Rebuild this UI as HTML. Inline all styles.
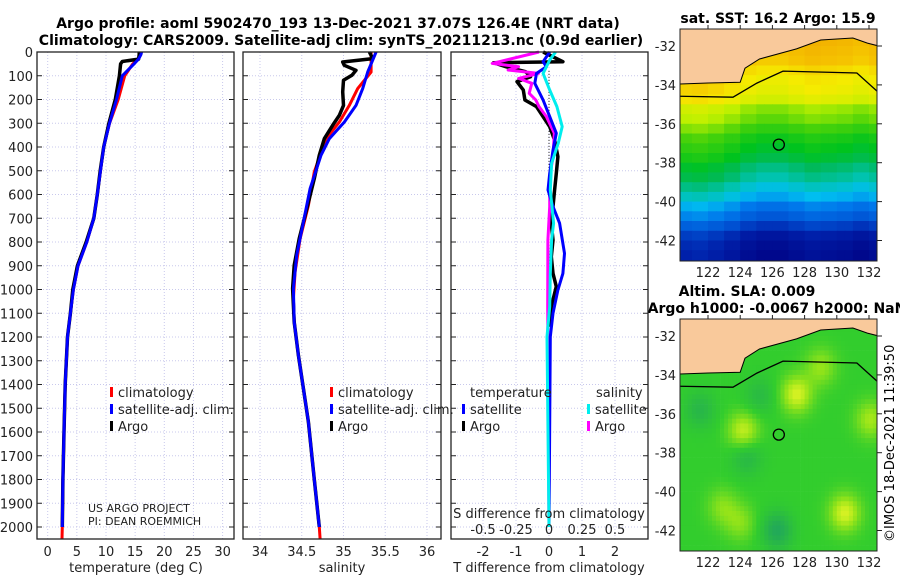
<!DOCTYPE html>
<html><head><meta charset="utf-8">
<style>
html,body{margin:0;padding:0;background:#fff;}
svg{display:block;font-family:"DejaVu Sans","Liberation Sans",sans-serif;}
</style></head>
<body>
<svg id="fig" width="900" height="580" viewBox="0 0 900 580" xmlns="http://www.w3.org/2000/svg">
<text x="338" y="28" font-size="14" font-weight="bold" text-anchor="middle">Argo profile: aoml 5902470_193 13-Dec-2021 37.07S 126.4E (NRT data)</text>
<text x="341" y="45" font-size="14" font-weight="bold" text-anchor="middle">Climatology: CARS2009. Satellite-adj clim: synTS_20211213.nc (0.9d earlier)</text>
<text x="778" y="23" font-size="14" font-weight="bold" text-anchor="middle">sat. SST: 16.2 Argo: 15.9</text>
<text x="747" y="296" font-size="14" font-weight="bold" text-anchor="middle">Altim. SLA: 0.009</text>
<text x="777" y="313" font-size="14" font-weight="bold" text-anchor="middle">Argo h1000: -0.0067 h2000: NaN</text>
<text transform="translate(894,542) rotate(-90)" font-size="13">©IMOS 18-Dec-2021 11:39:50</text>
<g id="g"></g>
</svg>
<script>
// ---------- data ----------
const tDepth=[0,10,30,40,50,100,200,300,400,500,600,700,800,900,1000,1100,1200,1400,1600,1800,2000];
const tClim=[16.0,15.9,15.5,15.0,14.6,13.2,12.1,10.6,9.6,9.05,8.5,7.9,6.7,5.2,4.4,3.9,3.4,3.0,2.8,2.6,2.5];
const tSat=[16.1,16.0,15.6,15.2,14.8,12.8,11.8,10.6,9.6,9.05,8.5,7.9,6.7,5.2,4.4,3.9,3.4,3.0,2.8,2.6,2.5];
const tArgo=[15.7,15.7,15.6,12.8,12.5,12.3,11.6,10.5,9.6,9.0,8.5,7.9,6.6,5.1,4.3,3.9,3.4,3.0,2.8,2.6,2.5];
const tClimExtDepth=[2000,2050];
const tClimExt=[2.5,2.45];

const sClimDepth=[0,84,154,225,295,365,505,646,786,926,1038,1137,1277,1417,1558,1800,2000,2050];
const sClim=[35.33,35.33,35.17,35.07,34.95,34.79,34.65,34.58,34.48,34.42,34.40,34.41,34.46,34.52,34.58,34.65,34.71,34.72];
const sSatDepth=[0,84,154,225,295,365,435,575,716,856,996,1137,1277,1417,1558,1800,2000];
const sSat=[35.39,35.29,35.23,35.15,35.01,34.83,34.73,34.60,34.52,34.44,34.40,34.41,34.46,34.52,34.58,34.65,34.71];
const sArgoDepth=[0,28,42,56,77,98,119,168,225,267,309,365,435,533,646,786,898,996,1137,1277,1417,1558,1800,2000];
const sArgo=[35.31,35.35,34.99,35.01,35.15,35.10,35.0,34.99,35.0,34.95,34.87,34.77,34.71,34.65,34.57,34.47,34.41,34.39,34.41,34.46,34.52,34.58,34.65,34.71];

const dTArgoDepth=[0,41,45,62,83,104,125,160,202,230,272,314,371,441,511,581,651,721,792,862,932,988,1072,1157];
const dTArgo=[-0.18,0.42,-1.68,-1.31,-0.71,-0.56,-0.97,-0.78,-0.73,-0.38,-0.18,0.02,0.17,0.27,0.22,0.17,0.12,0.07,0.12,0.07,0.12,0.22,0.07,0.04];
const dSArgoDepth=[0,48,62,76,90,111,132,174,202,230,272,342,441,511,581,651,792,1072,2000];
const dSArgo=[-0.076,-0.43,-0.23,-0.31,-0.08,-0.23,-0.13,-0.15,-0.10,-0.076,-0.02,0.04,0.03,0.01,0.005,0.005,-0.008,-0.01,0];
const dTSatDepth=[0,41,62,90,132,202,272,342,413,511,581,651,721,848,932,1002,1100,1199,2000];
const dTSat=[0.02,-0.18,-0.08,-0.38,-0.43,-0.18,0.02,0.22,0.12,0.02,-0.03,0.12,0.32,0.47,0.42,0.27,0.12,0.04,0.0];
const dSSatDepth=[0,34,90,160,230,314,385,469,581,721,792,932,1072,1199,2000];
const dSSat=[0.05,0.005,-0.045,0.005,0.06,0.10,0.07,0.02,0.01,0.035,0.02,0.01,0.005,-0.015,0];

const depthTicks=[0,100,200,300,400,500,600,700,800,900,1000,1100,1200,1300,1400,1500,1600,1700,1800,1900,2000];
const tempTicks=[0,5,10,15,20,25,30];
const salTicks=[34,34.5,35,35.5,36];
const salTickLabels=["34","34.5","35","35.5","36"];
const dTTicks=[-2,-1,0,1,2];
const dSTicks=[-0.5,-0.25,0,0.25,0.5];
const dSTickLabels=["-0.5","-0.25","0","0.25","0.5"];

// SST map: rows of 0.5 deg starting at -31 (top edge), columns 1 deg from 120
const sstRowLat=[-31,-31.5,-32,-32.5,-33,-33.5,-34,-34.5,-35,-35.5,-36,-36.5,-37,-37.5,-38,-38.5,-39,-39.5,-40,-40.5,-41,-41.5,-42,-42.5,-43];
const sstRow=[18.5,18.5,18.4,18.3,18.0,17.8,17.7,17.5,17.0,16.8,16.5,16.2,16.0,15.8,15.5,15.3,15.0,14.7,14.3,14.0,13.6,13.2,13.0,12.9,12.9];
const sstColLon=[120,121,122,123,124,125,126,127,128,129,130,131,132];
const sstColOff=[0.4,0.45,0.35,0.2,0.0,-0.1,-0.1,0.0,0.1,0.05,0.0,-0.1,0.0];
// SLA blobs: lon, lat, amplitude
const slaBlobLon=[127.5,124.2,130.5,132.1,122.9,124.0,126.3,121.5,124.4,125.2,129.0];
const slaBlobLat=[-35.0,-36.9,-41.1,-36.3,-40.8,-41.6,-42.0,-35.8,-38.2,-35.1,-33.6];
const slaBlobAmp=[1.0,0.9,1.0,0.7,0.5,0.5,-0.8,-0.5,-0.5,-0.4,0.6];
// coast and 200 m isobath
const coastLon=[120.2,122.0,124.0,124.3,125.2,127.5,129.0,131.0,131.9,132.6];
const coastLat=[-33.96,-33.9,-33.86,-33.14,-32.67,-32.15,-31.69,-31.59,-31.85,-32.0];
const isoLon=[120.2,123.55,125.04,126.66,131.25,132.6];
const isoLat=[-34.58,-34.63,-33.91,-33.29,-33.39,-34.4];
const mapLonTicks=[122,124,126,128,130,132];
const mapLatTicks=[-32,-34,-36,-38,-40,-42];
const argoLon=126.4, argoLat=-37.07;

// ---------- helpers ----------
const NS="http://www.w3.org/2000/svg";
const G=document.getElementById('g');
function el(tag,attrs,parent){const e=document.createElementNS(NS,tag);for(const k in attrs)e.setAttribute(k,attrs[k]);(parent||G).appendChild(e);return e;}
function txt(x,y,s,size,anchor,parent){const t=el('text',{x:x,y:y,'font-size':size,'text-anchor':anchor||'middle',fill:'#222'},parent);t.textContent=s;return t;}

const TOP=52, BOT=539;
const yD=d=>TOP+d*0.2375;
const panels=[
 {name:'temperature',x0:37,x1:234,fx:v=>47.7+v*5.83},
 {name:'salinity',x0:243,x1:441,fx:v=>260+(v-34)*83.5},
 {name:'difference',x0:451,x1:648,fx:v=>549+v*33}
];
const fxS=v=>549+v*132;

panels.forEach((p,pi)=>{
  const g=el('g',{});
  
  
  depthTicks.forEach(d=>{el('line',{x1:p.x0,x2:p.x1,y1:yD(d),y2:yD(d),stroke:'#c8c8ec','stroke-width':1,'stroke-dasharray':'1,2'},g);});
  const xt=pi===0?tempTicks:pi===1?salTicks:dTTicks;
  xt.forEach(v=>{el('line',{x1:p.fx(v),x2:p.fx(v),y1:TOP,y2:BOT,stroke:'#c8c8ec','stroke-width':1,'stroke-dasharray':'1,2'},g);});
  depthTicks.forEach(d=>{
    el('line',{x1:p.x0,x2:p.x0+5,y1:yD(d),y2:yD(d),stroke:'#222'},g);
    el('line',{x1:p.x1,x2:p.x1-5,y1:yD(d),y2:yD(d),stroke:'#222'},g);
  });
});

function line(depths,vals,fx,color,w,name,parent){
  let d='';
  depths.forEach((dp,i)=>{d+=(i?'L':'M')+fx(vals[i]).toFixed(1)+','+yD(dp).toFixed(1);});
  const e=el('path',{d:d,fill:'none',stroke:color,'stroke-width':w,'stroke-linejoin':'round'},parent);
  
  
  return e;
}
line(tClimExtDepth,tClimExt,panels[0].fx,'#ff0000',3,'temp-clim-extension');
line(tDepth,tClim,panels[0].fx,'#ff0000',3,'temp-climatology-line');
line(tDepth,tArgo,panels[0].fx,'#000000',3.5,'temp-argo-line');
line(tDepth,tSat,panels[0].fx,'#0000ff',3,'temp-satellite-line');
line(sClimDepth,sClim,panels[1].fx,'#ff0000',3,'sal-climatology-line');
line(sArgoDepth,sArgo,panels[1].fx,'#000000',3.5,'sal-argo-line');
line(sSatDepth,sSat,panels[1].fx,'#0000ff',3,'sal-satellite-line');
const zl=el('line',{x1:549,x2:549,y1:yD(80),y2:yD(1100),stroke:'#333','stroke-width':1,'stroke-dasharray':'1,2'});


line(dTArgoDepth,dTArgo,panels[2].fx,'#000000',3.5,'dT-argo-line');
line(dSArgoDepth,dSArgo,fxS,'#ff00ff',3,'dS-argo-line');
line(dTSatDepth,dTSat,panels[2].fx,'#0000ff',3,'dT-satellite-line');
line(dSSatDepth,dSSat,fxS,'#00eeee',3,'dS-satellite-line');

panels.forEach(p=>{el('rect',{x:p.x0,y:TOP,width:p.x1-p.x0,height:BOT-TOP,fill:'none',stroke:'#222','stroke-width':1.3});});

depthTicks.forEach(d=>{const t=txt(33,yD(d)+5,String(d),13,'end');});
tempTicks.forEach(v=>{const t=txt(panels[0].fx(v),556,String(v),13);});
salTicks.forEach((v,i)=>{const t=txt(panels[1].fx(v),556,salTickLabels[i],13);});
dTTicks.forEach(v=>{const t=txt(panels[2].fx(v),556,String(v),13);});
dSTicks.forEach((v,i)=>{const t=txt(fxS(v),534,dSTickLabels[i],13);});
let t;
t=txt(136,572,'temperature (deg C)',13);
t=txt(342,572,'salinity',13);
t=txt(549,572,'T difference from climatology',13);
t=txt(549,518,'S difference from climatology',13);
t=txt(88,512,'US ARGO PROJECT',11,'start');
t=txt(88,525,'PI: DEAN ROEMMICH',11,'start');

function legEntry(x,y,color,label,name){
  const g=el('g',{});
  
  
  el('rect',{x:x,y:y-10,width:3,height:10,fill:color},g);
  txt(x+8,y,label,13,'start',g);
}
legEntry(110,397,'#ff0000','climatology','legend-entry-climatology');
legEntry(110,414,'#0000ff','satellite-adj. clim.','legend-entry-satellite-adj');
legEntry(110,431,'#000000','Argo','legend-entry-argo');
legEntry(330,397,'#ff0000','climatology','legend-entry-climatology');
legEntry(330,414,'#0000ff','satellite-adj. clim.','legend-entry-satellite-adj');
legEntry(330,431,'#000000','Argo','legend-entry-argo');
t=txt(470,397,'temperature',13,'start');
t=txt(596,397,'salinity',13,'start');
legEntry(462,414,'#0000ff','satellite','legend-entry-dT-satellite');
legEntry(462,431,'#000000','Argo','legend-entry-dT-argo');
legEntry(587,414,'#00eeee','satellite','legend-entry-dS-satellite');
legEntry(587,431,'#ff00ff','Argo','legend-entry-dS-argo');

// ---------- maps ----------
const MX0=680,MX1=877;
const mlon=l=>708+(l-122)*16.1;
function makeMap(top,bottom,lat32,name,cellFn){
  const mlat=la=>lat32+(-32-la)*19.45;
  const g=el('g',{});
  
  
  const cid='clip'+name;
  const cp=el('clipPath',{id:cid},g);
  el('rect',{x:MX0,y:top,width:MX1-MX0,height:bottom-top},cp);
  const inner=el('g',{'clip-path':'url(#'+cid+')'},g);
  cellFn(inner,mlat);
  let d='M'+MX0+','+(top-2);
  coastLon.forEach((lo,i)=>{d+='L'+mlon(lo).toFixed(1)+','+mlat(coastLat[i]).toFixed(1);});
  d+='L'+(MX1+2)+','+(top-2)+'Z';
  const land=el('path',{d:d,fill:'#f9c99b',stroke:'none'},inner);
  
  
  let c='';coastLon.forEach((lo,i)=>{c+=(i?'L':'M')+mlon(lo).toFixed(1)+','+mlat(coastLat[i]).toFixed(1);});
  el('path',{d:c,fill:'none',stroke:'#000','stroke-width':1},inner);
  let iso='';isoLon.forEach((lo,i)=>{iso+=(i?'L':'M')+mlon(lo).toFixed(1)+','+mlat(isoLat[i]).toFixed(1);});
  const il=el('path',{d:iso,fill:'none',stroke:'#000','stroke-width':1.3},inner);
  
  
  const circ=el('circle',{cx:mlon(argoLon),cy:mlat(argoLat),r:5.5,fill:'none',stroke:'#000','stroke-width':1.3},g);
  
  
  el('rect',{x:MX0,y:top,width:MX1-MX0,height:bottom-top,fill:'none',stroke:'#222','stroke-width':1},g);
  mapLatTicks.forEach(la=>{
    el('line',{x1:MX1,x2:MX1+5,y1:mlat(la),y2:mlat(la),stroke:'#222'},g);
    const tt=txt(676,mlat(la)+5,String(la),13,'end',g);
    
    
  });
  mapLonTicks.forEach(lo=>{
    el('line',{x1:mlon(lo),x2:mlon(lo),y1:top,y2:top-4,stroke:'#222'},g);
    const tt=txt(mlon(lo),bottom+16,String(lo),13,'middle',g);
    
    
  });
}
const sstStops=[[12.8,[0,8,140]],[13.3,[0,32,170]],[13.8,[0,80,210]],[14.3,[0,120,235]],[14.8,[0,190,240]],[15.2,[0,195,175]],[15.6,[0,185,90]],[16.0,[0,195,30]],[16.6,[70,210,10]],[17.2,[190,240,0]],[17.8,[245,235,0]],[18.3,[245,195,0]],[18.8,[240,165,0]]];
function sstColor(v){
  if(v<=sstStops[0][0])return 'rgb('+sstStops[0][1]+')';
  for(let i=1;i<sstStops.length;i++){if(v<=sstStops[i][0]){const a=sstStops[i-1],b=sstStops[i],f=(v-a[0])/(b[0]-a[0]);return 'rgb('+a[1].map((c,k)=>Math.round(c+(b[1][k]-c)*f)).join(',')+')';}}
  return 'rgb('+sstStops[sstStops.length-1][1]+')';
}
makeMap(29,261,46,'sst-map',(g,mlat)=>{
  sstRowLat.forEach((la,r)=>{
    sstColLon.forEach((lo,c)=>{
      for(let h=0;h<2;h++){
        const v=sstRow[r]+sstColOff[c];
        const x=mlon(lo+h*0.5), y=mlat(la);
        const cell=el('rect',{x:x.toFixed(1),y:y.toFixed(1),width:8.6,height:10.3,fill:sstColor(v)},g);
        
        
      }
    });
  });
});
const slaStops=[[-1,[30,160,100]],[0,[50,205,45]],[0.6,[150,228,25]],[1.0,[215,242,35]]];
function slaColor(v){
  if(v<=slaStops[0][0])return 'rgb('+slaStops[0][1]+')';
  for(let i=1;i<slaStops.length;i++){if(v<=slaStops[i][0]){const a=slaStops[i-1],b=slaStops[i],f=(v-a[0])/(b[0]-a[0]);return 'rgb('+a[1].map((c,k)=>Math.round(c+(b[1][k]-c)*f)).join(',')+')';}}
  return 'rgb('+slaStops[slaStops.length-1][1]+')';
}
makeMap(319,551,336,'sla-map',(g,mlat)=>{
  for(let la=-31;la>-43.4;la-=0.25){
    for(let lo=120;lo<132.8;lo+=0.25){
      let v=0;
      slaBlobLon.forEach((bl,i)=>{const dx=lo+0.125-bl,dy=la-0.125-slaBlobLat[i];v+=slaBlobAmp[i]*Math.exp(-(dx*dx+dy*dy)/0.9);});
      const cell=el('rect',{x:mlon(lo).toFixed(1),y:mlat(la).toFixed(1),width:4.4,height:5.2,fill:slaColor(v)},g);
      
      
    }
  }
});
</script>
</body></html>
